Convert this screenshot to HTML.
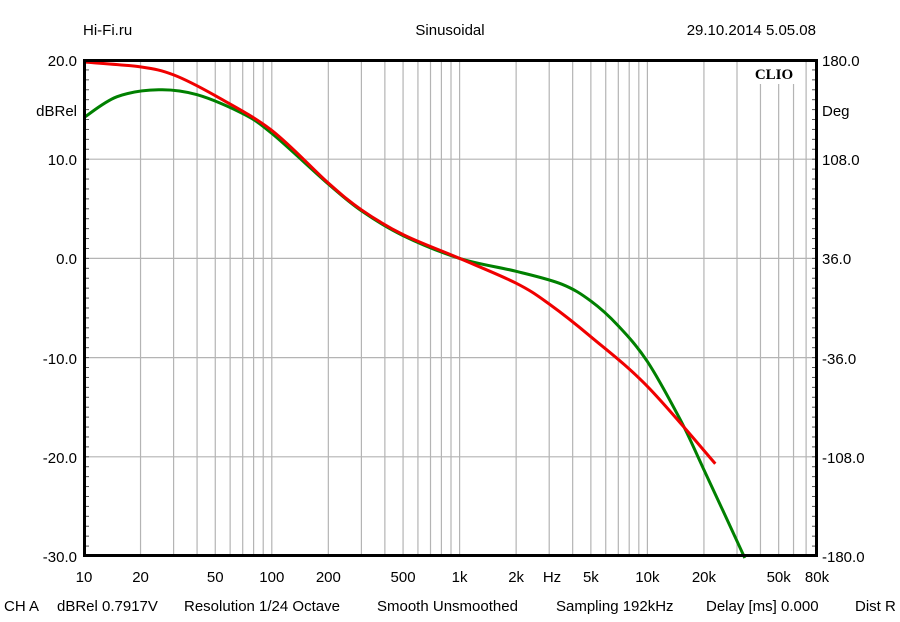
<!DOCTYPE html>
<html><head><meta charset="utf-8"><style>
html,body{margin:0;padding:0;background:#fff;}
svg{display:block;font-family:"Liberation Sans",Arial,sans-serif;}
</style></head><body>
<svg id="s" width="900" height="622" viewBox="0 0 900 622" xmlns="http://www.w3.org/2000/svg">
<g font-size="15" fill="#000">
<text x="83" y="35">Hi-Fi.ru</text>
<text x="450" y="35" text-anchor="middle">Sinusoidal</text>
<text x="816" y="35" text-anchor="end">29.10.2014 5.05.08</text>
<text x="77" y="66" text-anchor="end">20.0</text>
<text x="77" y="116" text-anchor="end">dBRel</text>
<text x="77" y="165" text-anchor="end">10.0</text>
<text x="77" y="264" text-anchor="end">0.0</text>
<text x="77" y="364" text-anchor="end">-10.0</text>
<text x="77" y="463" text-anchor="end">-20.0</text>
<text x="77" y="562" text-anchor="end">-30.0</text>
<text x="822" y="66">180.0</text>
<text x="822" y="116">Deg</text>
<text x="822" y="165">108.0</text>
<text x="822" y="264">36.0</text>
<text x="822" y="364">-36.0</text>
<text x="822" y="463">-108.0</text>
<text x="822" y="562">-180.0</text>
<text x="552" y="582" text-anchor="middle">Hz</text>
<text x="4" y="611">CH A</text>
<text x="57" y="611">dBRel 0.7917V</text>
<text x="184" y="611">Resolution 1/24 Octave</text>
<text x="377" y="611">Smooth Unsmoothed</text>
<text x="556" y="611">Sampling 192kHz</text>
<text x="706" y="611">Delay [ms] 0.000</text>
<text x="855" y="611">Dist R</text>
</g>
<g id="grid"></g>
<rect x="746" y="62" width="56" height="22" fill="#fff"/>
<text x="774" y="79" font-family="Liberation Serif,serif" font-weight="bold" font-size="15" text-anchor="middle">CLIO</text>
<path id="g" fill="none" stroke="#008000" stroke-width="3"/>
<path id="r" fill="none" stroke="#f00000" stroke-width="3"/>
<rect x="84.5" y="60.5" width="732" height="495" fill="none" stroke="#000" stroke-width="3"/>
</svg>
<script>
var L=84,R=817,T=60,B=556,PD=(R-L)/Math.log10(8000);
function X(f){return L+PD*Math.log10(f/10);}
function Y(d){return T+(20-d)*(B-T)/50;}
var ns="http://www.w3.org/2000/svg",g=document.getElementById('grid'),s=document.getElementById('s');
function el(n,a,p){var e=document.createElementNS(ns,n);for(var k in a)e.setAttribute(k,a[k]);(p||g).appendChild(e);return e;}
for(var dec=10;dec<80000;dec*=10)for(var m=1;m<10;m++){var f=dec*m;if(f<=10||f>=80000)continue;var x=X(f);el('line',{x1:x,x2:x,y1:T,y2:B,stroke:'#b4b4b4','stroke-width':1.2});}
for(var d=10;d>-30;d-=10){el('line',{x1:L,x2:R,y1:Y(d),y2:Y(d),stroke:'#b4b4b4','stroke-width':1.2});}
for(var d=20;d>=-30;d--){var y=Y(d);el('line',{x1:L,x2:L+5,y1:y,y2:y,stroke:'#555','stroke-width':1});el('line',{x1:R-5,x2:R,y1:y,y2:y,stroke:'#555','stroke-width':1});}
var labs=[[10,'10'],[20,'20'],[50,'50'],[100,'100'],[200,'200'],[500,'500'],[1000,'1k'],[2000,'2k'],[5000,'5k'],[10000,'10k'],[20000,'20k'],[50000,'50k'],[80000,'80k']];
labs.forEach(function(l){var t=el('text',{x:X(l[0]),y:582,'text-anchor':'middle','font-size':15},s);t.textContent=l[1];});
function path(pts){var P=pts.map(function(p){return [X(p[0]),Y(p[1])];});var d='M'+P[0][0].toFixed(1)+','+P[0][1].toFixed(1);
for(var i=0;i<P.length-1;i++){var p0=P[Math.max(0,i-1)],p1=P[i],p2=P[i+1],p3=P[Math.min(P.length-1,i+2)];
d+=' C'+(p1[0]+(p2[0]-p0[0])/6).toFixed(1)+','+(p1[1]+(p2[1]-p0[1])/6).toFixed(1)+' '+(p2[0]-(p3[0]-p1[0])/6).toFixed(1)+','+(p2[1]-(p3[1]-p1[1])/6).toFixed(1)+' '+p2[0].toFixed(1)+','+p2[1].toFixed(1);}
return d;}
document.getElementById('r').setAttribute('d',path([[10,19.8],[20,19.3],[30,18.5],[50,16.4],[100,12.9],[200,7.6],[300,4.9],[500,2.4],[1000,0],[2000,-2.5],[3000,-4.6],[5000,-7.9],[10000,-12.9],[23000,-20.7]]));
document.getElementById('g').setAttribute('d',path([[10,14.2],[15,16.3],[25,17.0],[40,16.5],[70,14.6],[100,12.6],[200,7.5],[300,4.8],[500,2.3],[1000,0],[2000,-1.3],[3500,-2.6],[5000,-4.3],[7000,-6.8],[10000,-10.4],[15000,-16.3],[20000,-21.3],[33000,-30.2]]));
</script>
</body></html>
